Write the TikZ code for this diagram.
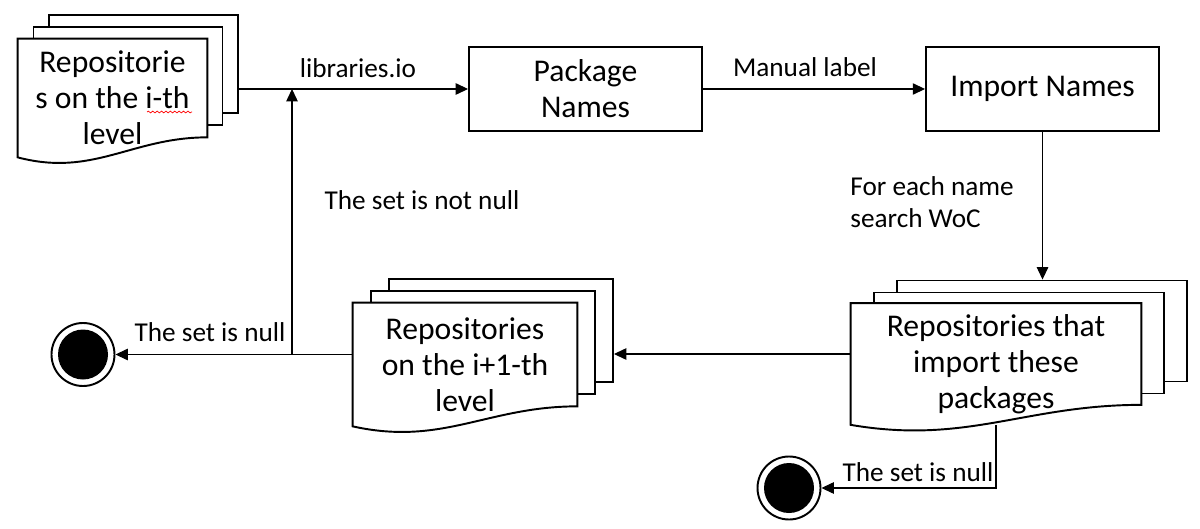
\documentclass[tikz,border=0pt]{standalone}
\usepackage{fontspec}
\setmainfont{Carlito}
\usetikzlibrary{arrows.meta,calc,decorations.pathmorphing}

\begin{document}
\begin{tikzpicture}[
    page/.style={draw, fill=white, line width=1.1pt, inner sep=0pt},
    sheet/.style={inner sep=0pt},
    boxtext/.style={align=center, font=\fontsize{18}{20.5}\selectfont},
    lbl/.style={align=left, inner sep=0pt, font=\fontsize{15.5}{18}\selectfont},
    arr/.style={line width=0.6pt, -{Triangle[length=7pt,width=6.5pt]}},
    endstate/.style={circle, draw, line width=1.1pt, minimum size=1.26cm, inner sep=0pt,
        path picture={\fill (path picture bounding box.center) circle (0.5cm);}}
  ]
  \useasboundingbox (0,0) rectangle (24,10.56);

  % Top left - repositories on the i-th level
  \node[page, minimum width=3.78cm, minimum height=1.96cm] (cur2) at (2.87,9.28) {};
  \node[page, minimum width=3.78cm, minimum height=1.96cm] (cur1) at (2.56,9.04) {};
  \node[sheet, minimum width=3.78cm, minimum height=2.36cm] (cur) at (2.25,8.60) {};
  \draw[page] (cur.south west) -- (cur.north west) -- (cur.north east) -- ([yshift=0.4cm]cur.south east)
    .. controls ($(cur.south west)!0.6!(cur.south east)+(0,0.4)$) and ($(cur.south west)!0.4!(cur.south east)+(0,-0.4)$) .. (cur.south west) -- cycle;
  \node[boxtext] (curtxt) at (cur) {Repositorie\\s on the i-th\\level};
  \draw[red, line width=0.4pt, decorate, decoration={snake, amplitude=0.5pt, segment length=2.5pt}]
    ([shift={(0.69,-0.28)}]curtxt.center) -- ([shift={(1.59,-0.28)}]curtxt.center);

  % Top row - package names and import names
  \node[page, boxtext, minimum width=4.66cm, minimum height=1.68cm] (pkg) at (11.71,8.78) {Package\\Names};
  \node[page, boxtext, minimum width=4.66cm, minimum height=1.68cm] (imp) at (20.85,8.78) {Import Names};

  % Bottom right - repositories that import these packages
  \node[page, minimum width=5.80cm, minimum height=2.02cm] (found2) at (20.84,3.94) {};
  \node[page, minimum width=5.80cm, minimum height=2.02cm] (found1) at (20.38,3.70) {};
  \node[sheet, minimum width=5.80cm, minimum height=2.42cm] (found) at (19.92,3.28) {};
  \draw[page] (found.south west) -- (found.north west) -- (found.north east) -- ([yshift=0.4cm]found.south east)
    .. controls ($(found.south west)!0.6!(found.south east)+(0,0.4)$) and ($(found.south west)!0.4!(found.south east)+(0,-0.4)$) .. (found.south west) -- cycle;
  \node[boxtext] (foundtxt) at (found) {Repositories that\\import these\\packages};

  % Bottom middle - repositories on the i+1-th level
  \node[page, minimum width=4.48cm, minimum height=2.06cm] (next2) at (10.02,3.95) {};
  \node[page, minimum width=4.48cm, minimum height=2.06cm] (next1) at (9.66,3.71) {};
  \node[sheet, minimum width=4.48cm, minimum height=2.46cm] (next) at (9.30,3.27) {};
  \draw[page] (next.south west) -- (next.north west) -- (next.north east) -- ([yshift=0.4cm]next.south east)
    .. controls ($(next.south west)!0.6!(next.south east)+(0,0.4)$) and ($(next.south west)!0.4!(next.south east)+(0,-0.4)$) .. (next.south west) -- cycle;
  \node[boxtext] (nexttxt) at (next) {Repositories\\on the i+1-th\\level};

  % End states
  \node[endstate] (end1) at (1.66,3.47) {};
  \node[endstate] (end2) at (15.78,0.80) {};
  \coordinate (back) at (5.84,3.47);

  % Arrows
  \draw[arr] (cur2.east |- pkg.west) -- (pkg.west);
  \draw[arr] (pkg.east) -- (imp.west);
  \draw[arr] (imp.south) -- (imp.south |- found2.north);
  \draw[arr] ([yshift=0.2cm]found.west) -- ([yshift=0.2cm]found.west -| next2.east);
  \draw[arr] ([yshift=0.2cm]next.west) -- (end1.east);
  \draw[arr] (back) -- (back |- pkg.west);
  \draw[arr] (found.south) |- (end2.east);

  % Labels
  \node[lbl] (l1) at (7.16,9.20) {libraries.io};
  \node[lbl] (l2) at (16.10,9.22) {Manual label};
  \node[lbl, anchor=west] (l3) at (17.00,6.52) {For each name\\search WoC};
  \node[lbl] (l4) at (8.44,6.56) {The set is not null};
  \node[lbl] (l5) at (4.20,3.92) {The set is null};
  \node[lbl] (l6) at (18.36,1.12) {The set is null};
\end{tikzpicture}
\end{document}
